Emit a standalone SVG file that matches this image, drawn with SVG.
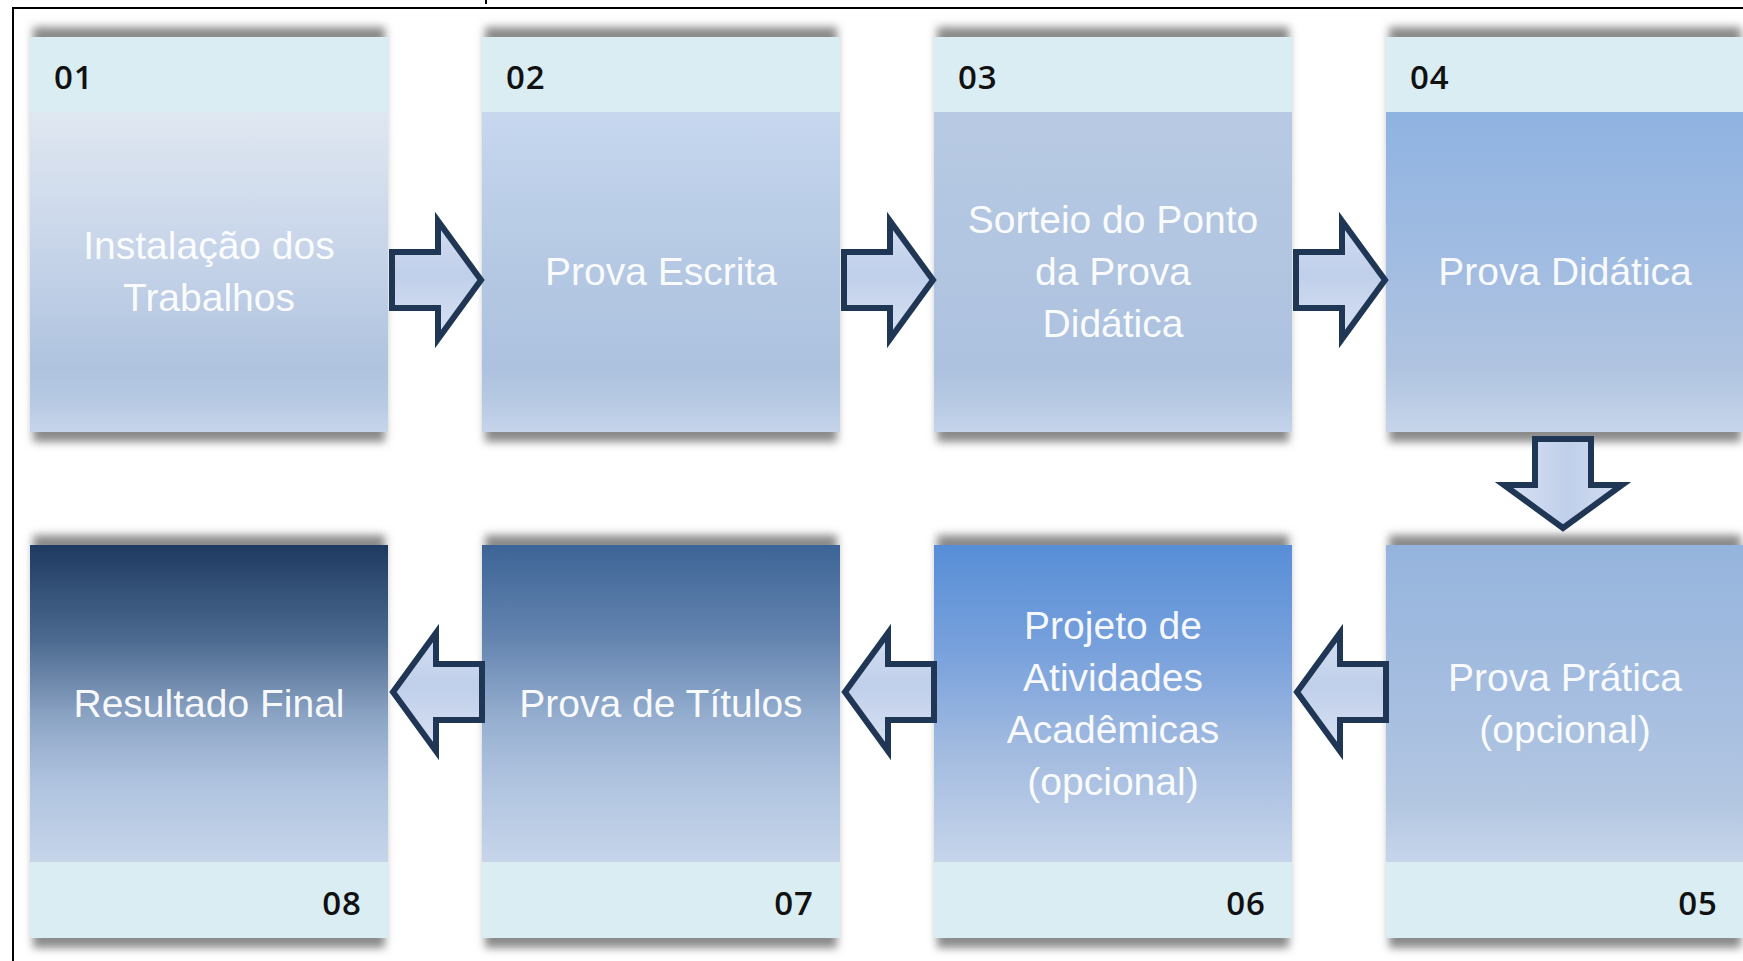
<svg xmlns="http://www.w3.org/2000/svg" width="1743" height="961" viewBox="0 0 1743 961">
<defs>
<style>
.hdr{fill:#daedf3}
.shadow{fill:#8a8a8a;filter:url(#blur)}
.num{font-family:"Open Sans","Liberation Sans",Arial,sans-serif;font-size:33px;font-weight:600;fill:#111;letter-spacing:1px}
.lbl{font-family:"Liberation Sans",Arial,sans-serif;font-size:39px;fill:#ffffff;fill-opacity:0.95;text-anchor:middle}
.arrow{fill:url(#gArrow);stroke:#1f3654;stroke-width:6;stroke-linejoin:miter;stroke-miterlimit:10}
</style>
<filter id="blur" x="-10%" y="-10%" width="120%" height="120%"><feGaussianBlur stdDeviation="4"/></filter>
<linearGradient id="gArrow" x1="0" y1="0" x2="0" y2="1">
<stop offset="0" stop-color="#d3def2"/><stop offset="0.45" stop-color="#c0cfea"/><stop offset="1" stop-color="#d8e2f3"/>
</linearGradient>
<linearGradient id="g1" x1="0" y1="0" x2="0" y2="1">
<stop offset="0" stop-color="#dfe7f1"/><stop offset="0.4" stop-color="#c9d6ea"/><stop offset="0.8" stop-color="#afc3df"/><stop offset="0.9" stop-color="#b6c9e3"/><stop offset="1" stop-color="#c6d5ea"/>
</linearGradient>
<linearGradient id="g2" x1="0" y1="0" x2="0" y2="1">
<stop offset="0" stop-color="#c6d7ee"/><stop offset="0.5" stop-color="#b4c8e3"/><stop offset="0.8" stop-color="#adc2df"/><stop offset="0.9" stop-color="#b6c9e3"/><stop offset="1" stop-color="#c5d4ea"/>
</linearGradient>
<linearGradient id="g3" x1="0" y1="0" x2="0" y2="1">
<stop offset="0" stop-color="#b8cae3"/><stop offset="0.5" stop-color="#b1c5e1"/><stop offset="0.8" stop-color="#adc2df"/><stop offset="0.9" stop-color="#b6c9e3"/><stop offset="1" stop-color="#c5d4ea"/>
</linearGradient>
<linearGradient id="g4" x1="0" y1="0" x2="0" y2="1">
<stop offset="0" stop-color="#8fb3e1"/><stop offset="0.45" stop-color="#a1bce2"/><stop offset="0.8" stop-color="#b0c4e0"/><stop offset="1" stop-color="#c6d5ea"/>
</linearGradient>
<linearGradient id="g5" x1="0" y1="0" x2="0" y2="1">
<stop offset="0" stop-color="#95b4dd"/><stop offset="0.5" stop-color="#a6bee0"/><stop offset="0.8" stop-color="#b2c6e1"/><stop offset="1" stop-color="#c6d5ea"/>
</linearGradient>
<linearGradient id="g6" x1="0" y1="0" x2="0" y2="1">
<stop offset="0" stop-color="#578ed7"/><stop offset="0.35" stop-color="#7aa2dc"/><stop offset="0.65" stop-color="#a3bbe0"/><stop offset="1" stop-color="#c6d5ea"/>
</linearGradient>
<linearGradient id="g7" x1="0" y1="0" x2="0" y2="1">
<stop offset="0" stop-color="#3c6496"/><stop offset="0.3" stop-color="#6585b0"/><stop offset="0.55" stop-color="#96afd0"/><stop offset="0.75" stop-color="#b0c4e0"/><stop offset="1" stop-color="#c6d5ea"/>
</linearGradient>
<linearGradient id="g8" x1="0" y1="0" x2="0" y2="1">
<stop offset="0" stop-color="#1e3a61"/><stop offset="0.3" stop-color="#4c6a90"/><stop offset="0.55" stop-color="#8ea6c6"/><stop offset="0.75" stop-color="#afc3df"/><stop offset="1" stop-color="#c6d5ea"/>
</linearGradient>
<path id="arr" d="M-89,-28 H-43 V-59 L0,0 L-43,59 V28 H-89 Z"/>
</defs>
<rect x="0" y="0" width="1743" height="961" fill="#ffffff"/>
<g id="frame">
<rect x="13" y="8" width="1800" height="1000" fill="none" stroke="#000" stroke-width="2"/>
<line x1="486" y1="0" x2="486" y2="4" stroke="#000" stroke-width="2"/>
</g>
<g id="node01">
<rect class="shadow" x="33" y="27" width="352" height="415"/>
<rect x="30" y="112" width="358" height="320" fill="url(#g1)"/>
<rect class="hdr" x="30" y="37" width="358" height="75"/>
<text class="num" x="54" y="89">01</text>
<text class="lbl" x="209" y="259">Instalação dos</text>
<text class="lbl" x="209" y="311">Trabalhos</text>
</g>
<g id="node02">
<rect class="shadow" x="485" y="27" width="352" height="415"/>
<rect x="482" y="112" width="358" height="320" fill="url(#g2)"/>
<rect class="hdr" x="482" y="37" width="358" height="75"/>
<text class="num" x="506" y="89">02</text>
<text class="lbl" x="661" y="285">Prova Escrita</text>
</g>
<g id="node03">
<rect class="shadow" x="937" y="27" width="352" height="415"/>
<rect x="934" y="112" width="358" height="320" fill="url(#g3)"/>
<rect class="hdr" x="934" y="37" width="358" height="75"/>
<text class="num" x="958" y="89">03</text>
<text class="lbl" x="1113" y="233">Sorteio do Ponto</text>
<text class="lbl" x="1113" y="285">da Prova</text>
<text class="lbl" x="1113" y="337">Didática</text>
</g>
<g id="node04">
<rect class="shadow" x="1389" y="27" width="352" height="415"/>
<rect x="1386" y="112" width="358" height="320" fill="url(#g4)"/>
<rect class="hdr" x="1386" y="37" width="358" height="75"/>
<text class="num" x="1410" y="89">04</text>
<text class="lbl" x="1565" y="285">Prova Didática</text>
</g>
<g id="node05">
<rect class="shadow" x="1389" y="535" width="352" height="413"/>
<rect x="1386" y="545" width="358" height="317" fill="url(#g5)"/>
<rect class="hdr" x="1386" y="862" width="358" height="76"/>
<text class="num" x="1718" y="915" text-anchor="end">05</text>
<text class="lbl" x="1565" y="691">Prova Prática</text>
<text class="lbl" x="1565" y="743">(opcional)</text>
</g>
<g id="node06">
<rect class="shadow" x="937" y="535" width="352" height="413"/>
<rect x="934" y="545" width="358" height="317" fill="url(#g6)"/>
<rect class="hdr" x="934" y="862" width="358" height="76"/>
<text class="num" x="1266" y="915" text-anchor="end">06</text>
<text class="lbl" x="1113" y="639">Projeto de</text>
<text class="lbl" x="1113" y="691">Atividades</text>
<text class="lbl" x="1113" y="743">Acadêmicas</text>
<text class="lbl" x="1113" y="795">(opcional)</text>
</g>
<g id="node07">
<rect class="shadow" x="485" y="535" width="352" height="413"/>
<rect x="482" y="545" width="358" height="317" fill="url(#g7)"/>
<rect class="hdr" x="482" y="862" width="358" height="76"/>
<text class="num" x="814" y="915" text-anchor="end">07</text>
<text class="lbl" x="661" y="717">Prova de Títulos</text>
</g>
<g id="node08">
<rect class="shadow" x="33" y="535" width="352" height="413"/>
<rect x="30" y="545" width="358" height="317" fill="url(#g8)"/>
<rect class="hdr" x="30" y="862" width="358" height="76"/>
<text class="num" x="362" y="915" text-anchor="end">08</text>
<text class="lbl" x="209" y="717">Resultado Final</text>
</g>
<g id="connectors">
<use href="#arr" class="arrow" transform="translate(481,280)"/>
<use href="#arr" class="arrow" transform="translate(933,280)"/>
<use href="#arr" class="arrow" transform="translate(1385,280)"/>
<use href="#arr" class="arrow" transform="translate(1563,528) rotate(90)"/>
<use href="#arr" class="arrow" transform="translate(1297,692) scale(-1,1)"/>
<use href="#arr" class="arrow" transform="translate(845,692) scale(-1,1)"/>
<use href="#arr" class="arrow" transform="translate(393,692) scale(-1,1)"/>
</g>
</svg>
